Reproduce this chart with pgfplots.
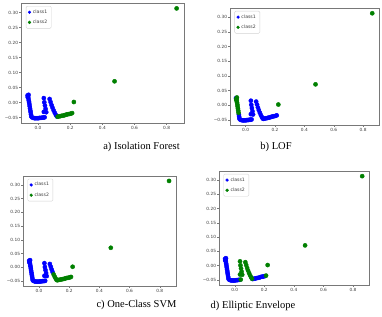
\documentclass[border=0pt]{standalone}
\usepackage{pgfplots}
\pgfplotsset{compat=1.18}
\usepackage{pgfplotstable}
\usepackage{fontspec}
\setmainfont{Liberation Serif}
\newfontfamily\dejavu{DejaVu Sans}

\definecolor{mplblue}{RGB}{0,0,255}
\definecolor{mplgreen}{RGB}{0,128,0}
\definecolor{spine}{RGB}{120,120,120}
\definecolor{ticktext}{RGB}{60,60,60}

% 2-D embedding of the samples; iso/lof/svm/ell give the class (1 = inlier, 2 = outlier)
% assigned to each sample by the four detectors
\pgfplotstableread{
x y iso lof svm ell
-0.065 0.024 1 1 1 1
-0.059 0.026 1 2 1 1
-0.064 0.018 1 2 1 1
-0.062 0.022 1 2 1 1
-0.060 0.015 1 2 1 1
-0.058 0.008 1 2 1 1
-0.056 0.002 1 2 1 1
-0.054 -0.005 1 2 1 1
-0.052 -0.012 1 2 1 1
-0.050 -0.019 1 2 1 1
-0.048 -0.026 1 2 1 1
-0.046 -0.032 1 1 1 1
-0.044 -0.039 1 1 1 1
-0.042 -0.046 1 1 1 1
-0.038 -0.049 1 1 1 1
-0.030 -0.051 1 1 1 1
-0.022 -0.052 1 1 1 1
-0.014 -0.052 1 1 1 1
-0.006 -0.052 1 1 1 1
0.002 -0.052 1 1 1 1
0.010 -0.051 1 1 1 1
0.018 -0.051 1 1 1 1
0.026 -0.050 1 1 1 1
0.034 -0.050 1 1 1 1
0.041 -0.049 1 1 1 2
0.036 0.015 1 1 1 2
0.039 0.001 1 1 1 2
0.043 -0.010 1 1 1 2
0.047 -0.021 1 1 1 2
0.051 -0.032 1 1 1 2
0.036 -0.031 1 1 1 2
0.072 0.012 1 1 1 2
0.078 0.002 1 1 1 2
0.084 -0.008 1 1 1 2
0.090 -0.017 1 1 1 2
0.097 -0.026 1 1 2 2
0.104 -0.034 1 1 2 2
0.111 -0.041 1 1 2 2
0.117 -0.046 1 1 2 2
0.122 -0.047 2 1 2 1
0.130 -0.046 2 1 2 1
0.139 -0.045 2 1 2 1
0.148 -0.044 2 1 2 1
0.157 -0.043 2 1 2 1
0.166 -0.042 2 1 2 1
0.175 -0.040 2 1 2 1
0.184 -0.039 2 1 2 1
0.193 -0.038 2 1 2 1
0.203 -0.037 2 1 2 1
0.212 -0.035 2 1 2 2
0.223 0.002 2 2 2 2
0.476 0.071 2 2 2 2
0.862 0.314 2 2 2 2
}\pts

\pgfplotsset{
  panel/.style={
    scale only axis,
    anchor=south west,
    xmin=-0.106, xmax=0.908,
    ymin=-0.068, ymax=0.332,
    xtick={0,0.2,0.4,0.6,0.8},
    xticklabels={0.0,0.2,0.4,0.6,0.8},
    ytick={-0.05,0,0.05,0.1,0.15,0.2,0.25,0.3},
    yticklabels={−0.05,0.00,0.05,0.10,0.15,0.20,0.25,0.30},
    tick align=outside,
    xtick pos=lower, ytick pos=left,
    major tick length=1.8pt,
    tick style={color=spine, line width=0.3pt},
    axis line style={color=spine, line width=0.4pt},
    tick label style={font=\dejavu\fontsize{4.3}{5}\selectfont, text=ticktext, inner sep=1pt},
    legend style={
      at={(0.03,0.975)}, anchor=north west,
      draw=gray!35, rounded corners=1.2pt, fill=white,
      font=\dejavu\fontsize{4.6}{5.5}\selectfont, text=ticktext,
      inner xsep=2pt, inner ysep=1.5pt,
      row sep=1.2pt,
      /tikz/every even column/.append style={column sep=3pt},
    },
    legend cell align=left,
    legend image code/.code={
      \draw[mark repeat=2, mark phase=2, mark size=1.4pt]
        plot coordinates {(0pt,0pt) (4pt,0pt) (8pt,0pt)};
    },
  },
  cls1/.style={only marks, mark=*, mark size=2.1pt, color=mplblue},
  cls2/.style={only marks, mark=*, mark size=2.1pt, color=mplgreen},
}

\begin{document}
\begin{tikzpicture}
\useasboundingbox (0pt,0pt) rectangle (382pt,316pt);

% a) Isolation Forest
\begin{axis}[panel, at={(21pt,193pt)}, width=163pt, height=120pt]
  \addplot[cls1] table[x=x, y=y, restrict expr to domain={\thisrow{iso}}{0.5:1.5}] {\pts};
  \addplot[cls2] table[x=x, y=y, restrict expr to domain={\thisrow{iso}}{1.5:2.5}] {\pts};
  \legend{class1,class2}
\end{axis}
\node[font=\fontsize{10.5}{12}\selectfont] at (141.5pt,169pt) {a) Isolation Forest};

% b) LOF
\begin{axis}[panel, at={(230pt,191pt)}, width=149pt, height=117pt]
  \addplot[cls1] table[x=x, y=y, restrict expr to domain={\thisrow{lof}}{0.5:1.5}] {\pts};
  \addplot[cls2] table[x=x, y=y, restrict expr to domain={\thisrow{lof}}{1.5:2.5}] {\pts};
  \legend{class1,class2}
\end{axis}
\node[font=\fontsize{10.5}{12}\selectfont] at (276pt,169pt) {b) LOF};

% c) One-Class SVM
\begin{axis}[panel, at={(23pt,30pt)}, width=153pt, height=110pt]
  \addplot[cls1] table[x=x, y=y, restrict expr to domain={\thisrow{svm}}{0.5:1.5}] {\pts};
  \addplot[cls2] table[x=x, y=y, restrict expr to domain={\thisrow{svm}}{1.5:2.5}] {\pts};
  \legend{class1,class2}
\end{axis}
\node[font=\fontsize{10.5}{12}\selectfont] at (136.5pt,11pt) {c) One-Class SVM};

% d) Elliptic Envelope
\begin{axis}[panel, at={(219pt,31pt)}, width=150pt, height=114pt]
  \addplot[cls1] table[x=x, y=y, restrict expr to domain={\thisrow{ell}}{0.5:1.5}] {\pts};
  \addplot[cls2] table[x=x, y=y, restrict expr to domain={\thisrow{ell}}{1.5:2.5}] {\pts};
  \legend{class1,class2}
\end{axis}
\node[font=\fontsize{10.5}{12}\selectfont] at (253pt,10pt) {d) Elliptic Envelope};
\end{tikzpicture}
\end{document}
